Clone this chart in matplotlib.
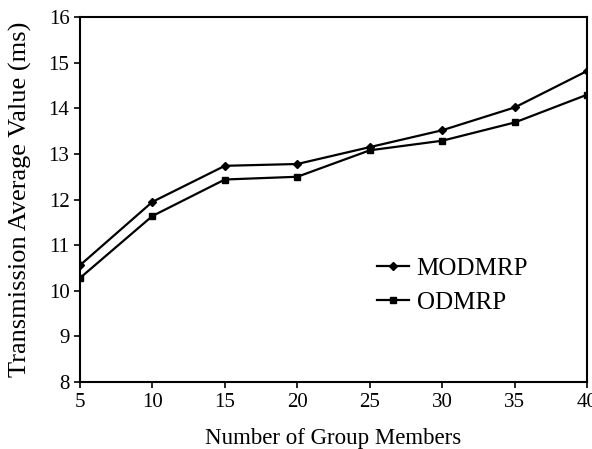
import matplotlib
matplotlib.use('Agg')
import matplotlib.pyplot as plt

# group sizes and average transmission delay (ms)
members = [5, 10, 15, 20, 25, 30, 35, 40]
modmrp = [10.56, 11.95, 12.74, 12.78, 13.15, 13.52, 14.02, 14.82]
odmrp = [10.28, 11.64, 12.44, 12.50, 13.08, 13.29, 13.69, 14.30]

plt.rcParams['font.family'] = ['Liberation Serif', 'DejaVu Serif']

fig = plt.figure(figsize=(5.92, 4.49), dpi=100)
ax = fig.add_axes([0.135, 0.149, 0.857, 0.813])

ax.plot(members, modmrp, color='black', lw=1.6, marker='D', ms=4.5, label='MODMRP')
ax.plot(members, odmrp, color='black', lw=1.6, marker='s', ms=5, label='ODMRP')

ax.set_xlim(5, 40)
ax.set_ylim(8, 16)
ax.set_xticks(members)
ax.set_yticks(range(8, 17))
ax.tick_params(direction='out', length=4, width=1.2, labelsize=15, top=False, right=False)
for s in ax.spines.values():
    s.set_linewidth(1.5)

ax.set_xlabel('Number of Group Members', fontsize=16.5, labelpad=12)
ax.set_ylabel('Transmission Average Value (ms)', fontsize=19, labelpad=12)

ax.legend(loc='upper left', bbox_to_anchor=(0.56, 0.375), frameon=False, fontsize=18,
          handlelength=1.3, handletextpad=0.3, labelspacing=0.45, borderpad=0)

fig.savefig('out.png', dpi=100)
